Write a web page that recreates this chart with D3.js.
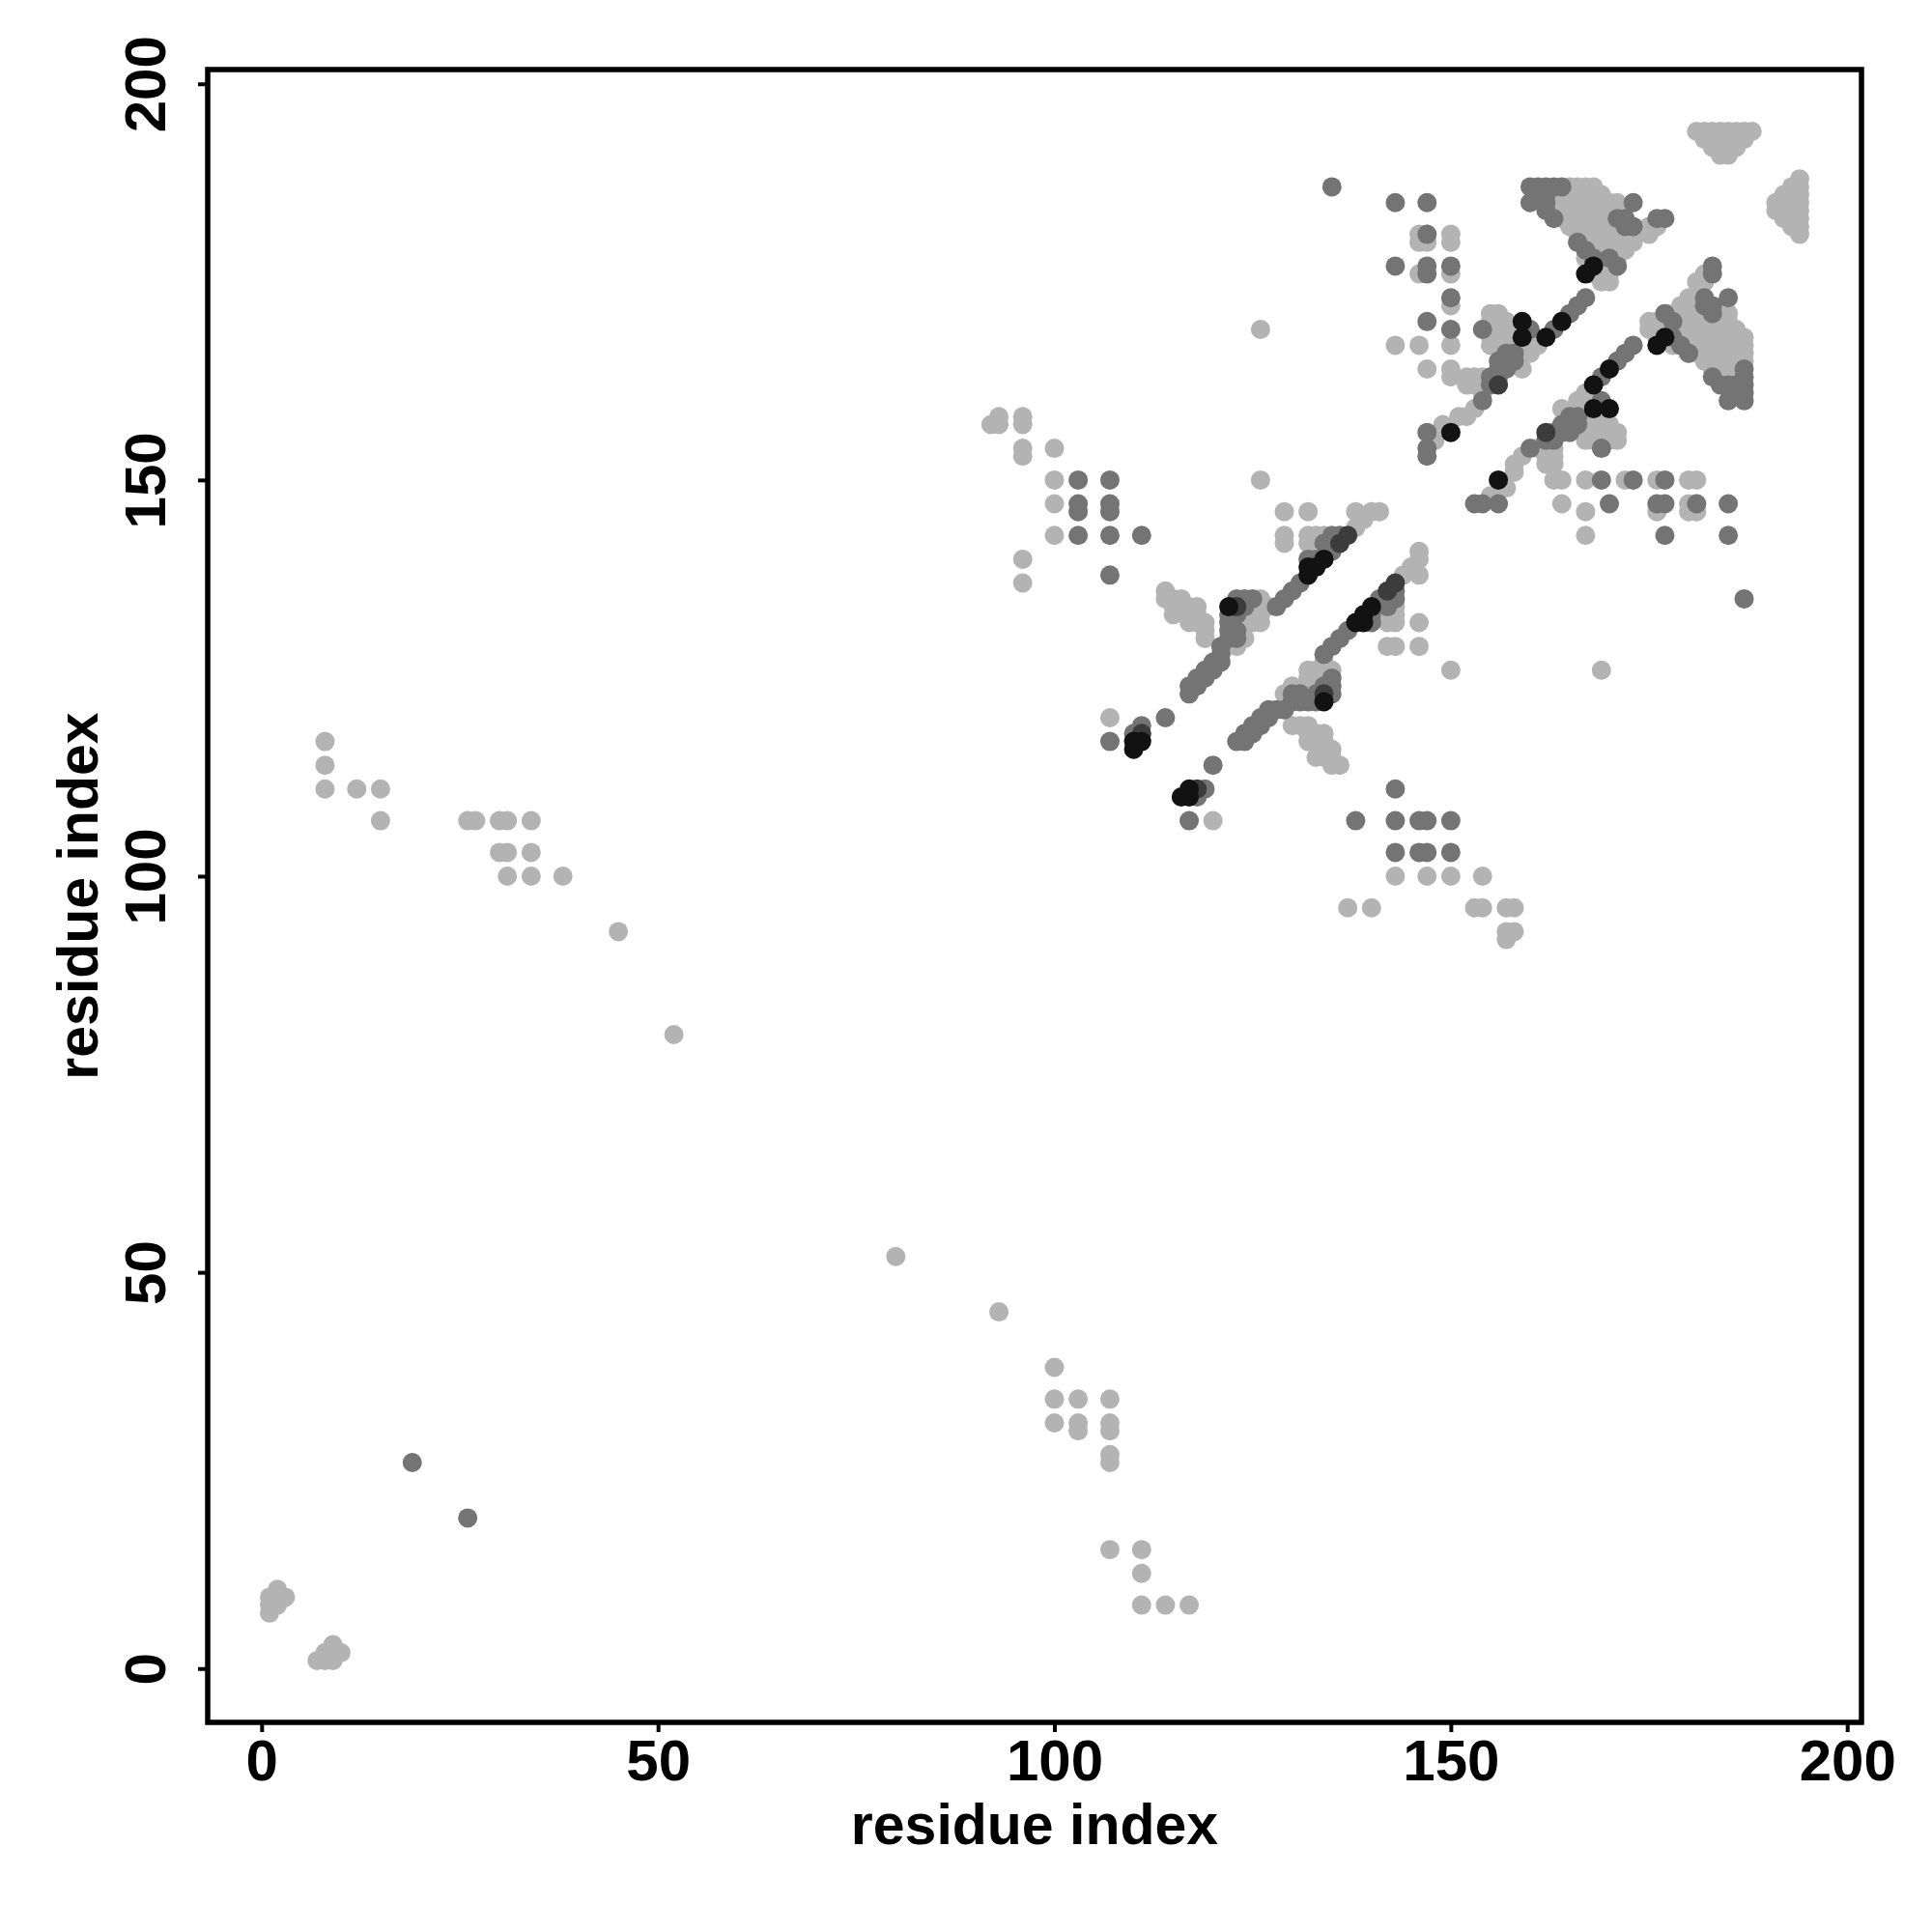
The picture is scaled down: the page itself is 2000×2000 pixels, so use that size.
<!DOCTYPE html>
<html>
<head>
<meta charset="utf-8">
<script src="https://cdn.jsdelivr.net/npm/d3@7"></script>
<style>
    body { margin: 0; background: #fff; }
</style>
</head>
<body>
<div id="chart"></div>
<script>
// contacts (i < j) grouped by grey level; each one is shown at (i, j) and (j, i)
const lightPairs = [
    [1,7],[1,8],[1,9],[2,8],[2,9],[2,10],[3,9],
    [8,111],[8,114],[8,117],[12,111],[15,111],[15,107],
    [26,107],[27,107],[30,107],[31,107],[34,107],
    [30,103],[31,103],[34,103],[31,100],[34,100],[38,100],
    [45,93],[52,80],
    [92,157],[93,158],[93,157],[96,158],[96,157],[96,154],[96,153],[100,154],
    [100,150],[100,147],[100,143],[96,140],[96,137],
    [107,120],[126,150],[126,169],
    [114,136],[114,135],[115,135],[116,135],[115,134],[116,134],[117,134],[118,134],
    [115,133],[117,133],[118,133],[117,132],[118,132],[119,132],[119,131],[119,130],
    [125,132],[125,133],[126,132],[126,133],[126,134],[126,135],[127,134],[124,130],[123,129],
    [129,146],[132,146],[129,143],[129,142],[132,143],[132,142],[133,143],[134,143],
    [138,146],[139,145],[140,146],[141,146],[138,144],
    [148,155],[149,157],[151,158],[152,158],[153,159],[152,162],[153,162],[154,161],
    [152,163],[153,163],[154,163],[150,163],[147,164],[150,164],
    [146,181],[147,181],[146,180],[147,180],[150,181],[150,180],[146,176],[150,176],
    [150,172],[143,167],[146,167],[150,167],
    [155,167],[156,167],[157,167],[155,168],[156,168],[157,168],[155,169],[156,169],
    [157,169],[155,170],[156,170],[157,170],[155,171],[156,171],[159,164],[160,166],[161,167],
    [165,187],[166,187],[167,187],[168,187],
    [163,186],[164,186],[165,186],[166,186],[167,186],[168,186],[169,186],
    [163,185],[164,185],[165,185],[166,185],[167,185],[168,185],[169,185],[170,185],[171,185],
    [163,184],[164,184],[165,184],[166,184],[167,184],[168,184],[169,184],[170,184],[171,184],
    [164,183],[165,183],[166,183],[167,183],[168,183],[169,183],[170,183],
    [165,182],[166,182],[167,182],[168,182],[169,182],[170,182],[171,182],
    [166,181],[167,181],[168,181],[169,181],[170,181],[171,181],[172,181],[173,181],
    [166,180],[167,180],[168,180],[169,180],[170,180],[171,180],[172,180],[173,180],
    [167,179],[168,179],[169,179],[170,179],[171,179],[172,179],
    [167,178],[168,178],[169,178],[170,178],[171,178],
    [168,177],[169,177],[170,177],[171,177],
    [168,176],[169,176],[170,176],
    [169,175],[170,175],
    [175,182],[176,182],[175,181],
    [181,194],[182,194],[183,194],[184,194],[185,194],[186,194],[187,194],[188,194],
    [182,193],[183,193],[184,193],[185,193],[186,193],[187,193],
    [183,192],[184,192],[185,192],[186,192],
    [184,191],[185,191]
];

const midPairs = [
    [19,26],
    [103,150],[107,150],[103,147],[107,147],[103,146],[107,146],[103,143],[107,143],[111,143],[107,138],
    [107,117],[111,119],[110,118],[114,120],
    [117,123],[117,124],[118,124],[118,125],[119,125],[119,126],[120,126],[120,127],[121,127],[121,128],[121,129],
    [122,130],[123,130],[122,131],[123,131],[122,132],[122,133],[123,133],[124,134],[123,135],[124,135],[125,135],
    [128,134],[129,135],[130,136],[131,137],
    [135,143],[136,143],[134,142],[135,142],[132,140],[133,140],[135,141],
    [147,153],[147,154],[147,156],[154,160],[155,163],[157,164],
    [135,187],[143,185],[147,185],[147,181],[143,177],[147,177],[150,177],[147,176],
    [150,173],[147,170],[150,169],[154,169],
    [155,162],[156,163],[156,164],[156,165],[157,165],[157,166],[158,165],[158,166],
    [160,169],[163,169],[165,171],[166,172],[167,173],
    [160,187],[161,187],[162,187],[163,187],[164,187],[160,185],[162,186],[162,185],[162,184],[163,183],
    [166,180],[167,179],[168,178],[170,178],[171,177],
    [171,183],[172,183],[172,182],[173,182],[173,185],[176,183],[177,183]
];

const darkPairs = [
    [111,118],[123,134],[136,142],[137,143],[156,162]
];

const blackPairs = [
    [110,116],[110,117],[111,117],[122,134],[132,138],[132,139],[133,139],[134,140],
    [150,156],[159,168],[159,170],[162,168],[164,170],[167,176],[168,177]
];

const tickValues = [0, 50, 100, 150, 200];
const xTitle = 'residue index';
const yTitle = 'residue index';

const levels = [
    { pairs: lightPairs, color: '#b3b3b3' },
    { pairs: midPairs, color: '#747474' },
    { pairs: darkPairs, color: '#3c3c3c' },
    { pairs: blackPairs, color: '#121212' }
];

const fontFamily = '"Liberation Sans", Arial, Helvetica, sans-serif';

const width = 2000, height = 2000;
const margin = { top: 72, right: 73, bottom: 217, left: 215 };
const innerW = width - margin.left - margin.right;
const innerH = height - margin.top - margin.bottom;

const svg = d3.select('#chart').append('svg')
    .attr('width', width)
    .attr('height', height);

const xScale = d3.scaleLinear()
    .domain([-6.8, 201.8])
    .range([margin.left, margin.left + innerW]);

const yScale = d3.scaleLinear()
    .domain([-6.8, 201.8])
    .range([margin.top + innerH, margin.top]);

// points, lightest first so the darker contacts sit on top
levels.forEach(level => {
    const pts = level.pairs.flatMap(p => [[p[0], p[1]], [p[1], p[0]]]);
    svg.append('g')
        .selectAll('circle')
        .data(pts)
        .join('circle')
        .attr('cx', d => xScale(d[0]))
        .attr('cy', d => yScale(d[1]))
        .attr('r', 10)
        .attr('fill', level.color);
});

// axes
const xAxis = d3.axisBottom(xScale)
    .tickValues(tickValues)
    .tickSize(10)
    .tickPadding(7)
    .tickSizeOuter(0);

svg.append('g')
    .attr('transform', `translate(0,${margin.top + innerH})`)
    .call(xAxis)
    .attr('font-size', 60)
    .attr('font-family', fontFamily)
    .attr('font-weight', 'bold')
    .call(g => g.select('.domain').remove())
    .call(g => g.selectAll('line').attr('stroke-width', 4))
    .call(g => g.selectAll('text').attr('fill', '#000'));

const yAxis = d3.axisLeft(yScale)
    .tickValues(tickValues)
    .tickSize(10)
    .tickSizeOuter(0);

svg.append('g')
    .attr('transform', `translate(${margin.left},0)`)
    .call(yAxis)
    .attr('font-size', 60)
    .attr('font-family', fontFamily)
    .attr('font-weight', 'bold')
    .call(g => g.select('.domain').remove())
    .call(g => g.selectAll('line').attr('stroke-width', 4))
    .call(g => g.selectAll('text')
        .attr('fill', '#000')
        .attr('x', 0)
        .attr('y', -44)
        .attr('dy', 0)
        .attr('text-anchor', 'middle')
        .attr('transform', 'rotate(-90)'));

// frame
svg.append('rect')
    .attr('x', margin.left)
    .attr('y', margin.top)
    .attr('width', innerW)
    .attr('height', innerH)
    .attr('fill', 'none')
    .attr('stroke', '#000')
    .attr('stroke-width', 5.5);

// titles
svg.append('text')
    .attr('x', margin.left + innerW / 2)
    .attr('y', 1909)
    .attr('text-anchor', 'middle')
    .attr('font-size', 59)
    .attr('font-family', fontFamily)
    .attr('font-weight', 'bold')
    .text(xTitle);

svg.append('text')
    .attr('transform', `translate(101,${margin.top + innerH / 2}) rotate(-90)`)
    .attr('text-anchor', 'middle')
    .attr('font-size', 59)
    .attr('font-family', fontFamily)
    .attr('font-weight', 'bold')
    .text(yTitle);
</script>
</body>
</html>
